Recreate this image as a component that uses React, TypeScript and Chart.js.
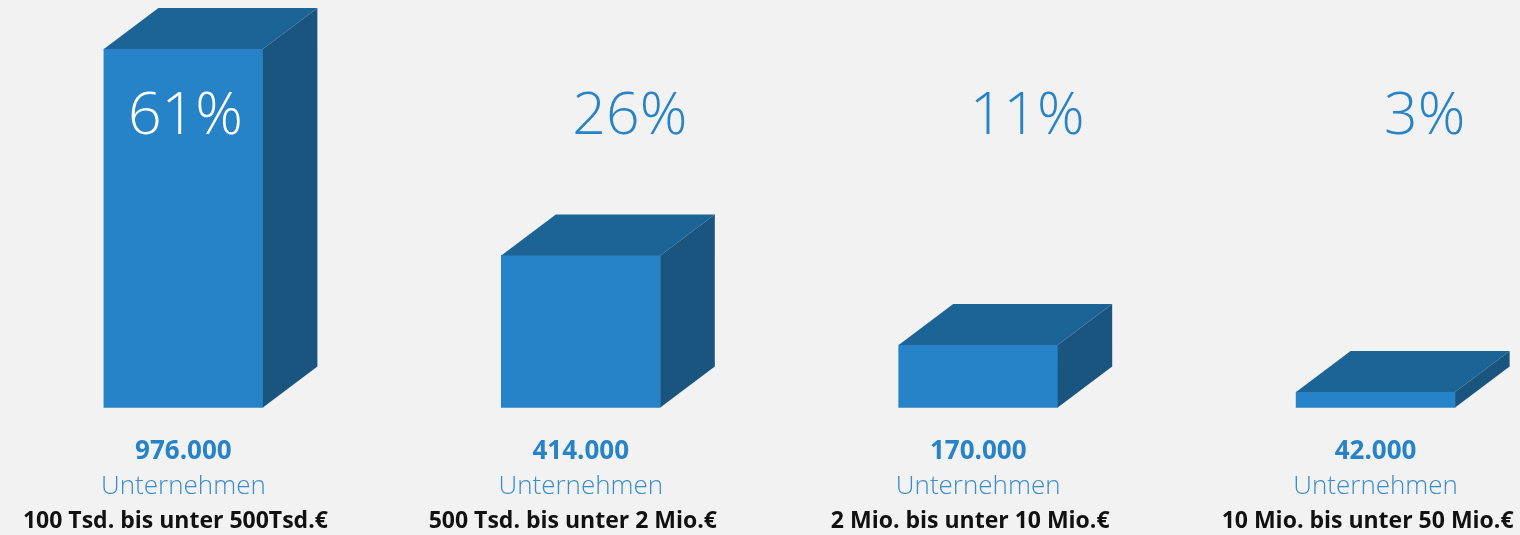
import React, { useEffect, useRef } from "react";
import { Chart, registerables } from "chart.js";

Chart.register(...registerables);

const categories = [
  "100 Tsd. bis unter 500Tsd.€",
  "500 Tsd. bis unter 2 Mio.€",
  "2 Mio. bis unter 10 Mio.€",
  "10 Mio. bis unter 50 Mio.€",
];
const companies = [976000, 414000, 170000, 42000];
const percentLabels = ["61%", "26%", "11%", "3%"];
const unitLabel = "Unternehmen";

const FRONT = "#2783C7";
const TOP = "#1D6496";
const SIDE = "#1A5580";
const TEXT_BLUE = "#2783C7";
const FONT = "'Open Sans', 'Noto Sans', sans-serif";
const DX = 54.5;
const DY = -41;

function fmt(n: number): string {
  return String(n).replace(/\B(?=(\d{3})+(?!\d))/g, ".");
}

const boxPlugin = {
  id: "box3d",
  afterDatasetsDraw(chart: any) {
    const ctx = chart.ctx;
    const meta = chart.getDatasetMeta(0);
    ctx.save();
    meta.data.forEach((el: any, i: number) => {
      const { x, y, base, width } = el.getProps(["x", "y", "base", "width"], true);
      const l = x - width / 2;
      const r = x + width / 2;
      // top face
      ctx.fillStyle = TOP;
      ctx.beginPath();
      ctx.moveTo(l, y);
      ctx.lineTo(l + DX, y + DY);
      ctx.lineTo(r + DX, y + DY);
      ctx.lineTo(r, y);
      ctx.closePath();
      ctx.fill();
      // side face
      ctx.fillStyle = SIDE;
      ctx.beginPath();
      ctx.moveTo(r, y);
      ctx.lineTo(r + DX, y + DY);
      ctx.lineTo(r + DX, base + DY);
      ctx.lineTo(r, base);
      ctx.closePath();
      ctx.fill();

      // percent label
      const inside = y < 100;
      ctx.font = `300 59px ${FONT}`;
      ctx.textAlign = "center";
      ctx.textBaseline = "alphabetic";
      ctx.fillStyle = inside ? "#FFFFFF" : TEXT_BLUE;
      ctx.fillText(percentLabels[i], inside ? x + 2 : x + 49, 134);

      // count
      ctx.fillStyle = TEXT_BLUE;
      ctx.font = `700 26px ${FONT}`;
      ctx.fillText(fmt(companies[i]), x, 459);
      ctx.font = `300 26px ${FONT}`;
      ctx.fillStyle = "#3A8DCC";
      ctx.fillText(unitLabel, x, 494);
      ctx.font = `700 23px ${FONT}`;
      ctx.fillStyle = "#111111";
      ctx.fillText(categories[i], x - 8, 528);
    });
    ctx.restore();
  },
};

export default function App() {
  const ref = useRef<HTMLCanvasElement | null>(null);
  useEffect(() => {
    document.body.style.margin = "0";
    document.body.style.background = "#F2F2F2";
    const chart = new Chart(ref.current as HTMLCanvasElement, {
      type: "bar",
      data: {
        labels: categories,
        datasets: [
          {
            data: companies,
            backgroundColor: FRONT,
            borderWidth: 0,
            barThickness: 159,
            clip: false,
          },
        ],
      },
      options: {
        animation: false,
        responsive: false,
        layout: { padding: { left: 183.4, right: 144.4, top: 3.5, bottom: 127.5 } },
        plugins: { legend: { display: false }, tooltip: { enabled: false } },
        scales: {
          x: { type: "category", offset: false, display: false },
          y: { min: 0, max: 1100000, display: false },
        },
      },
      plugins: [boxPlugin],
    });
    return () => chart.destroy();
  }, []);
  return (
    <div style={{ position: "fixed", left: 0, top: 0, width: 1520, height: 535, background: "#F2F2F2" }}>
      <canvas ref={ref} width={1520} height={535} style={{ display: "block" }} />
    </div>
  );
}
